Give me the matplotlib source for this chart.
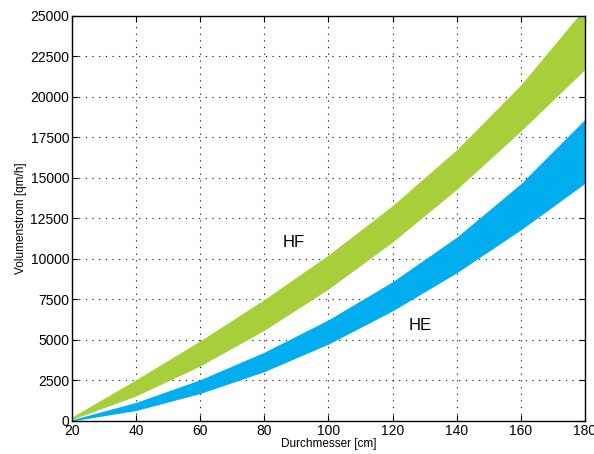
import numpy as np
import matplotlib.pyplot as plt

plt.rcParams["font.family"] = ["Liberation Sans", "DejaVu Sans"]

# --- data ---
diameter = [20, 40, 60, 80, 100, 120, 140, 160, 180]
hf_upper = [250, 2550, 4950, 7500, 10250, 13300, 16750, 20750, 25500]
hf_lower = [100, 1550, 3400, 5600, 8150, 11050, 14300, 17900, 21700]
he_upper = [80, 1150, 2550, 4250, 6250, 8600, 11350, 14650, 18620]
he_lower = [0, 650, 1700, 3050, 4750, 6800, 9150, 11800, 14670]

x_ticks = list(range(20, 181, 20))
y_ticks = list(range(0, 25001, 2500))

GREEN = "#A8CE3A"
BLUE = "#00AEEF"

fig = plt.figure(figsize=(5.94, 4.54), dpi=100)
ax = fig.add_axes([0.1212, 0.0727, 0.8636, 0.8921])

ax.fill_between(diameter, hf_lower, hf_upper, color=GREEN, linewidth=0)
ax.fill_between(diameter, he_lower, he_upper, color=BLUE, linewidth=0)

ax.text(89, 11000, "HF", fontsize=12, ha="center", va="center")
ax.text(128.5, 5900, "HE", fontsize=12, ha="center", va="center")

ax.set_xlim(20, 180)
ax.set_ylim(0, 25000)
ax.set_xticks(x_ticks)
ax.set_yticks(y_ticks)
ax.tick_params(direction="in", top=True, right=True, labelsize=10, length=4, pad=2)
ax.grid(True, color="black", linestyle=(0, (1, 5)), linewidth=0.8)
ax.set_axisbelow(True)
for s in ax.spines.values():
    s.set_linewidth(1.0)

ax.set_xlabel("Durchmesser [cm]", fontsize=8.5, labelpad=0)
ax.set_ylabel("Volumenstrom [qm/h]", fontsize=8.5, labelpad=2)

plt.savefig("out.png", dpi=100)
plt.close()
